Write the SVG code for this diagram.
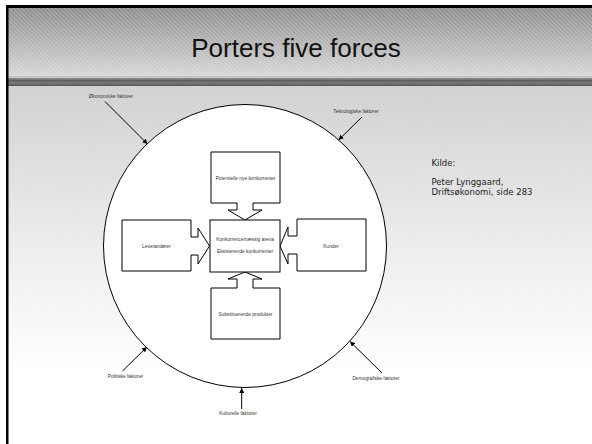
<svg xmlns="http://www.w3.org/2000/svg" width="592" height="444" viewBox="0 0 592 444">
<style>
.sm{font-family:"Liberation Sans",Arial,sans-serif;font-size:4.8px;fill:#333;text-anchor:middle}
.shape{fill:#fff;stroke:#000;stroke-width:1}
.conn{stroke:#000;stroke-width:1;fill:none;marker-end:url(#ah)}
.kilde{font-family:"DejaVu Sans",Verdana,sans-serif;font-size:8.5px;fill:#222}
</style>
<defs>
<linearGradient id="hdr" x1="0" y1="0" x2="0" y2="1">
<stop offset="0" stop-color="#8e8e8e"/>
<stop offset="0.5" stop-color="#b4b4b4"/>
<stop offset="1" stop-color="#d6d6d6"/>
</linearGradient>
<linearGradient id="band" x1="0" y1="0" x2="0" y2="1">
<stop offset="0" stop-color="#9a9a9a"/>
<stop offset="0.3" stop-color="#5e5e5e"/>
<stop offset="0.6" stop-color="#7a7a7a"/>
<stop offset="1" stop-color="#555"/>
</linearGradient>
<linearGradient id="body" x1="0" y1="0" x2="0" y2="1">
<stop offset="0" stop-color="#cfcfcf"/>
<stop offset="0.45" stop-color="#ececec"/>
<stop offset="0.8" stop-color="#ffffff"/>
<stop offset="1" stop-color="#ffffff"/>
</linearGradient>
<pattern id="hatch" width="3" height="3" patternUnits="userSpaceOnUse" patternTransform="rotate(-45)">
<rect x="0" y="0" width="1" height="3" fill="#fff" fill-opacity="0.22"/>
</pattern>
<marker id="ah" viewBox="0 0 10 10" refX="10" refY="5" markerWidth="5" markerHeight="5" orient="auto" markerUnits="userSpaceOnUse">
<path d="M0,0 L10,5 L0,10 Z" fill="#000"/>
</marker>
</defs>

<!-- background -->
<rect x="0" y="0" width="592" height="444" fill="#fff"/>
<rect x="8" y="8" width="584" height="68" fill="url(#hdr)"/>
<rect x="8" y="8" width="584" height="68" fill="url(#hatch)"/>
<rect x="8" y="86" width="584" height="358" fill="url(#body)"/>
<rect x="8" y="86" width="584" height="300" fill="url(#hatch)" opacity="0.8"/>
<rect x="8" y="76" width="584" height="2" fill="#c4c4c4"/>
<rect x="8" y="78" width="584" height="8" fill="url(#band)"/>
<rect x="6" y="5" width="586" height="3" fill="#000"/>
<rect x="6" y="5" width="2.5" height="439" fill="#000"/>

<text x="296" y="57" font-family="Liberation Sans,Arial,sans-serif" font-size="26" fill="#111" text-anchor="middle">Porters five forces</text>

<!-- big circle -->
<circle cx="245" cy="246" r="141.5" fill="#fff" stroke="#000" stroke-width="1"/>

<g id="potentielle">
<path class="shape" d="M211,152 H280 V203 H253 V210 H262 L245,220 L228,210 H237 V203 H211 Z"/>
<text class="sm" x="245.5" y="179.5">Potentielle nye konkurrenter</text>
</g>
<g id="substituerende">
<path class="shape" d="M211,339 H280 V288 H253 V279 H262 L245,272 L228,279 H237 V288 H211 Z"/>
<text class="sm" x="245.5" y="315.5">Substituerende produkter</text>
</g>
<g id="leverandorer">
<path class="shape" d="M122,220 H191 V237 H198 V228 L209.5,246 L198,264 V255 H191 V271 H122 Z"/>
<text class="sm" x="156.5" y="247.5">Leverandører</text>
</g>
<g id="kunder">
<path class="shape" d="M366,219 H297 V236 H288 V227 L280,246 L288,264 V254 H297 V271 H366 Z"/>
<text class="sm" x="331" y="247.5">Kunder</text>
</g>
<g id="arena">
<rect class="shape" x="210" y="220" width="70" height="52"/>
<text class="sm" x="245" y="240.5">Konkurrencemæssig arena</text>
<text class="sm" x="245" y="253">Eksisterende konkurrenter</text>
</g>

<g id="factors">
<text class="sm" x="111" y="97.5" font-style="italic">Økonomiske faktorer</text>
<text class="sm" x="356" y="113">Teknologiske faktorer</text>
<text class="sm" x="125.5" y="377.5">Politiske faktorer</text>
<text class="sm" x="238" y="414.5">Kulturelle faktorer</text>
<text class="sm" x="376" y="379.5">Demografiske faktorer</text>
</g>

<g id="connectors">
<line class="conn" x1="105" y1="101.5" x2="147.5" y2="144"/>
<line class="conn" x1="362" y1="117" x2="338.5" y2="140"/>
<line class="conn" x1="122.5" y1="371" x2="147" y2="347"/>
<line class="conn" x1="241.7" y1="409" x2="241.7" y2="388"/>
<line class="conn" x1="382" y1="373" x2="350" y2="341.5"/>
</g>

<g id="kilde">
<text class="kilde" x="431.5" y="166">Kilde:</text>
<text class="kilde" x="431.5" y="185">Peter Lynggaard,</text>
<text class="kilde" x="431.5" y="195">Driftsøkonomi, side 283</text>
</g>
</svg>
